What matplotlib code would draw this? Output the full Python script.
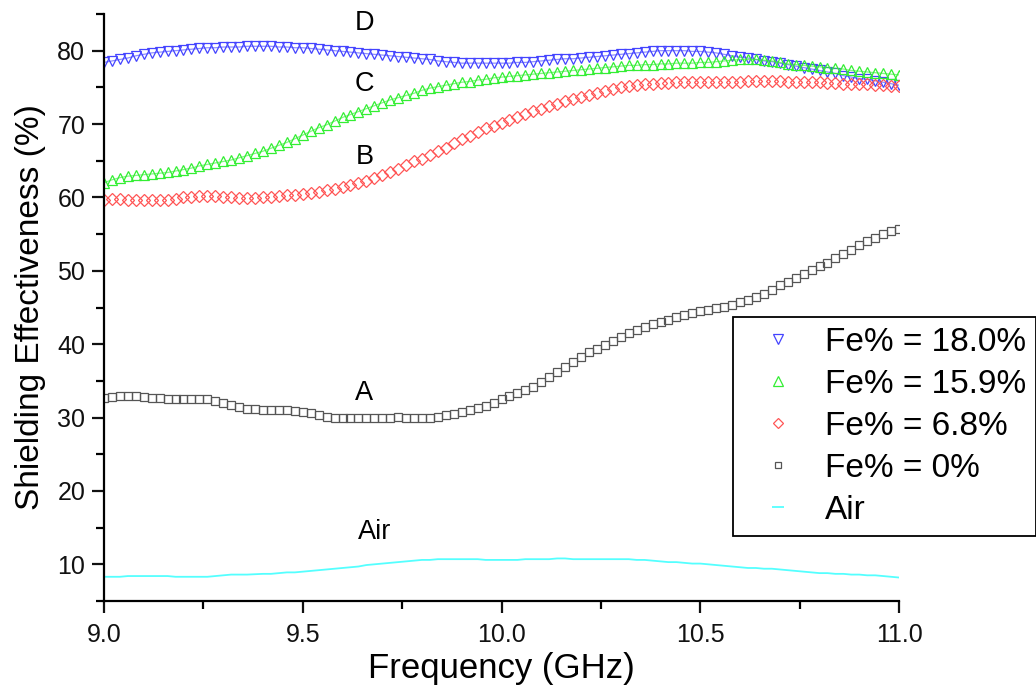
import numpy as np
import matplotlib
matplotlib.use("Agg")
import matplotlib.pyplot as plt
from matplotlib.lines import Line2D
from matplotlib.ticker import MultipleLocator

plt.rcParams['font.family'] = ['Liberation Sans', 'DejaVu Sans']

# Frequency sweep (GHz): 9.00 .. 11.00 in 0.02 GHz steps
freq = np.linspace(9.0, 11.0, 101)

se_fe18 = [78.4, 78.6, 78.8, 79.0, 79.3, 79.5, 79.7, 79.8, 79.9, 80.0,
           80.1, 80.2, 80.3, 80.4, 80.4, 80.5, 80.5, 80.5, 80.6, 80.6,
           80.6, 80.6, 80.5, 80.5, 80.4, 80.4, 80.3, 80.2, 80.1, 80.0,
           79.9, 79.8, 79.7, 79.6, 79.5, 79.4, 79.3, 79.2, 79.1, 79.0,
           78.9, 78.8, 78.6, 78.5, 78.4, 78.3, 78.3, 78.3, 78.3, 78.3,
           78.3, 78.3, 78.4, 78.4, 78.5, 78.6, 78.7, 78.8, 78.9, 78.9,
           79.0, 79.1, 79.2, 79.3, 79.4, 79.5, 79.6, 79.7, 79.8, 79.9,
           80.0, 80.0, 80.0, 80.0, 79.9, 79.9, 79.8, 79.7, 79.5, 79.3,
           79.1, 79.0, 78.8, 78.6, 78.5, 78.3, 78.1, 77.9, 77.7, 77.5,
           77.3, 77.1, 76.9, 76.6, 76.4, 76.2, 76.1, 75.9, 75.7, 75.5,
           75.3]

se_fe159 = [62.0, 62.4, 62.7, 62.9, 63.0, 63.1, 63.2, 63.3, 63.4, 63.6,
            63.8, 64.0, 64.3, 64.5, 64.7, 64.9, 65.1, 65.4, 65.7, 66.0,
            66.3, 66.7, 67.1, 67.5, 68.0, 68.5, 69.0, 69.5, 69.9, 70.4,
            70.9, 71.3, 71.7, 72.1, 72.5, 72.9, 73.3, 73.6, 73.9, 74.2,
            74.6, 74.9, 75.1, 75.3, 75.5, 75.7, 75.8, 76.0, 76.1, 76.3,
            76.4, 76.5, 76.6, 76.7, 76.8, 76.9, 77.0, 77.1, 77.2, 77.3,
            77.4, 77.5, 77.6, 77.7, 77.8, 77.9, 78.0, 78.0, 78.1, 78.1,
            78.2, 78.2, 78.3, 78.3, 78.3, 78.4, 78.4, 78.5, 78.6, 78.7,
            78.8, 78.8, 78.8, 78.7, 78.6, 78.4, 78.2, 78.1, 78.0, 77.9,
            77.8, 77.7, 77.6, 77.5, 77.3, 77.2, 77.1, 77.0, 76.9, 76.8,
            76.7]

se_fe68 = [59.7, 59.8, 59.8, 59.7, 59.6, 59.6, 59.6, 59.6, 59.7, 59.8,
           60.0, 60.1, 60.2, 60.2, 60.2, 60.1, 60.0, 59.9, 59.9, 59.9,
           60.0, 60.1, 60.2, 60.3, 60.4, 60.5, 60.6, 60.8, 61.0, 61.2,
           61.4, 61.7, 62.0, 62.3, 62.7, 63.1, 63.5, 63.9, 64.4, 64.9,
           65.3, 65.8, 66.3, 66.8, 67.4, 67.9, 68.4, 68.9, 69.4, 69.8,
           70.2, 70.6, 71.0, 71.4, 71.8, 72.1, 72.5, 72.8, 73.1, 73.4,
           73.7, 74.0, 74.3, 74.5, 74.8, 75.0, 75.2, 75.3, 75.4, 75.5,
           75.6, 75.6, 75.7, 75.7, 75.7, 75.7, 75.8, 75.8, 75.8, 75.8,
           75.8, 75.9, 75.9, 75.9, 75.9, 75.9, 75.8, 75.8, 75.8, 75.7,
           75.7, 75.6, 75.6, 75.5, 75.5, 75.4, 75.4, 75.3, 75.3, 75.2,
           75.2]

se_fe0 = [32.6, 32.8, 33.0, 33.0, 32.9, 32.8, 32.7, 32.6, 32.5, 32.5,
          32.5, 32.5, 32.5, 32.5, 32.3, 32.0, 31.7, 31.4, 31.2, 31.1,
          31.0, 31.0, 31.0, 31.0, 30.9, 30.8, 30.6, 30.3, 30.1, 30.0,
          29.9, 29.9, 29.9, 29.9, 30.0, 30.0, 30.0, 30.1, 30.0, 29.9,
          29.9, 30.0, 30.1, 30.3, 30.5, 30.8, 31.0, 31.3, 31.6, 32.0,
          32.5, 32.9, 33.3, 33.7, 34.2, 34.8, 35.5, 36.2, 36.9, 37.6,
          38.3, 38.9, 39.4, 39.9, 40.5, 41.0, 41.5, 41.9, 42.3, 42.7,
          43.0, 43.3, 43.7, 44.0, 44.3, 44.5, 44.7, 44.9, 45.1, 45.4,
          45.7, 46.0, 46.4, 46.9, 47.4, 48.0, 48.5, 49.0, 49.6, 50.1,
          50.6, 51.1, 51.7, 52.3, 52.9, 53.5, 54.0, 54.5, 55.0, 55.4,
          55.7]

se_air = [8.3, 8.3, 8.3, 8.4, 8.4, 8.4, 8.4, 8.4, 8.4, 8.3,
          8.3, 8.3, 8.3, 8.3, 8.4, 8.5, 8.6, 8.6, 8.6, 8.65,
          8.7, 8.7, 8.8, 8.9, 8.9, 9.0, 9.1, 9.2, 9.3, 9.4,
          9.5, 9.6, 9.7, 9.9, 10.0, 10.1, 10.2, 10.3, 10.4, 10.5,
          10.6, 10.6, 10.7, 10.7, 10.7, 10.7, 10.7, 10.7, 10.6, 10.6,
          10.6, 10.6, 10.6, 10.7, 10.7, 10.7, 10.7, 10.8, 10.8, 10.7,
          10.7, 10.7, 10.7, 10.7, 10.7, 10.7, 10.7, 10.6, 10.6, 10.5,
          10.4, 10.3, 10.3, 10.2, 10.1, 10.1, 10.0, 9.9, 9.8, 9.7,
          9.6, 9.5, 9.5, 9.4, 9.4, 9.3, 9.2, 9.1, 9.0, 8.9,
          8.8, 8.8, 8.7, 8.7, 8.6, 8.6, 8.5, 8.5, 8.4, 8.3,
          8.2]

legend_labels = ["Fe% = 18.0%", "Fe% = 15.9%", "Fe% = 6.8%", "Fe% = 0%", "Air"]
curve_tags = ["D", "C", "B", "A", "Air"]
tag_x = [9.655, 9.655, 9.655, 9.655, 9.68]
tag_y = [83.8, 75.5, 65.5, 33.4, 14.4]

c_blue = "#4444ff"
c_green = "#33ee33"
c_red = "#ff5555"
c_black = "#555555"
c_cyan = "#55ffff"

fig = plt.figure(figsize=(10.36, 6.90), dpi=100)
ax = fig.add_axes([104/1036, 1-601/690, (899-104)/1036, (601-14)/690])

ax.plot(freq, se_fe18, color=c_blue, lw=0.9, alpha=0.6)
ax.plot(freq, se_fe18, ls='none', marker='v', ms=7.5, mfc='none', mec=c_blue, mew=0.9)
ax.plot(freq, se_fe159, color=c_green, lw=0.9, alpha=0.6)
ax.plot(freq, se_fe159, ls='none', marker='^', ms=7.5, mfc='none', mec=c_green, mew=0.9)
ax.plot(freq, se_fe68, ls='none', marker='D', ms=6.3, mfc='none', mec=c_red, mew=0.9)
ax.plot(freq, se_fe0, ls='none', marker='s', ms=5.4, mfc='none', mec=c_black, mew=0.9)
ax.plot(freq, se_air, color=c_cyan, lw=1.3)

for t, x, y in zip(curve_tags, tag_x, tag_y):
    ax.text(x, y, t, fontsize=19.5, ha='center', va='center', color='black')

ax.set_xlim(9.0, 11.0)
ax.set_ylim(5, 85)
ax.xaxis.set_major_locator(MultipleLocator(0.5))
ax.xaxis.set_minor_locator(MultipleLocator(0.25))
ax.yaxis.set_major_locator(MultipleLocator(10))
ax.yaxis.set_minor_locator(MultipleLocator(5))
ax.set_yticks([10, 20, 30, 40, 50, 60, 70, 80])
ax.set_xticks([9.0, 9.5, 10.0, 10.5, 11.0])
ax.set_xticklabels(["9.0", "9.5", "10.0", "10.5", "11.0"])

for s in ['top', 'right']:
    ax.spines[s].set_visible(False)
for s in ['left', 'bottom']:
    ax.spines[s].set_linewidth(1.6)
ax.tick_params(which='major', direction='out', length=8.5, width=1.6, labelsize=18, colors='#111111', pad=5)
ax.tick_params(which='minor', direction='out', length=5.5, width=1.6)
ax.tick_params(axis='x', which='major', pad=7)

ax.set_xlabel("Frequency (GHz)", fontsize=25, labelpad=4)
ax.set_ylabel("Shielding Effectiveness (%)", fontsize=24, labelpad=8)

handles = [
    Line2D([], [], ls='none', marker='v', ms=7, mfc='none', mec=c_blue, mew=0.9),
    Line2D([], [], ls='none', marker='^', ms=7, mfc='none', mec=c_green, mew=0.9),
    Line2D([], [], ls='none', marker='D', ms=5.5, mfc='none', mec=c_red, mew=0.9),
    Line2D([], [], ls='none', marker='s', ms=4.5, mfc='none', mec=c_black, mew=0.9),
    Line2D([], [], ls='none', marker='_', ms=8, mec=c_cyan, mew=1.3),
]
leg = fig.legend(handles, legend_labels, loc='upper left',
                 bbox_to_anchor=(733/1036, 1-317/690), bbox_transform=fig.transFigure,
                 fontsize=24, frameon=True, fancybox=False, framealpha=1,
                 edgecolor='black', borderpad=0.3, handlelength=2.1,
                 handletextpad=0.35, labelspacing=0.33, borderaxespad=0)
leg.get_frame().set_linewidth(1.3)

fig.savefig("out.png", dpi=100)
